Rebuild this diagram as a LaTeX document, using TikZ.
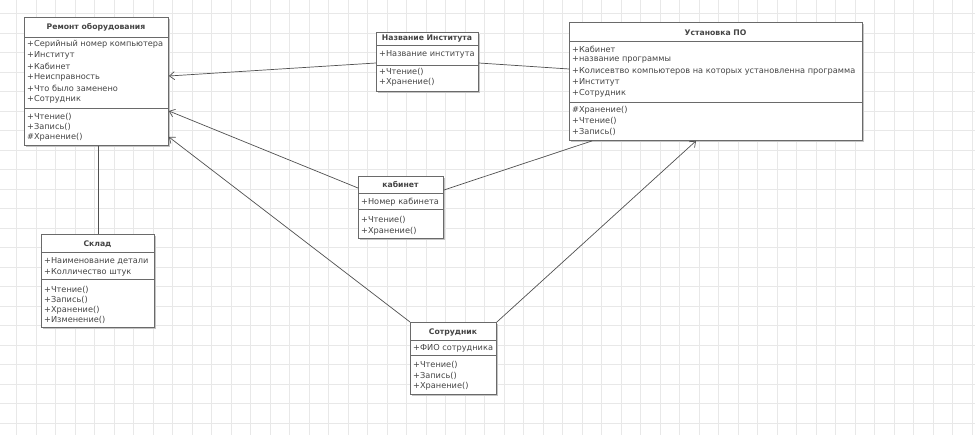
\documentclass[tikz,border=0pt]{standalone}
\usepackage{fontspec}
\setmainfont{DejaVu Sans}
\usetikzlibrary{arrows.meta}
\definecolor{gridc}{HTML}{E8E8E8}
\definecolor{boxc}{HTML}{6A6A6A}
\definecolor{linec}{HTML}{505050}
\definecolor{txtc}{HTML}{444444}
\definecolor{shadc}{HTML}{C4C4C4}
\tikzset{
  classrect/.style={draw=boxc, line width=0.9pt, fill=white, anchor=north west, inner sep=0pt},
  divline/.style={draw=boxc, line width=0.8pt},
  attr/.style={anchor=west, inner sep=0pt, text=txtc, font=\fontsize{8.2}{10}\selectfont},
  ctitle/.style={inner sep=0pt, text=txtc, font=\fontsize{7.7}{10}\selectfont\bfseries},
  conn/.style={draw=linec, line width=0.7pt},
  arr/.style={conn, -{Straight Barb[length=5pt,width=8pt]}},
}
\newcommand{\classbox}[5]{%
  \fill[shadc] (#2+1.6,#3+1.6) rectangle (#4+1.6,#5+1.6);
  \node[classrect, minimum width=#4-#2, minimum height=#5-#3] (#1) at (#2,#3) {};
}
\newcommand{\clines}[5]{%
  \foreach \t [count=\i] in {#5} {\node[attr] (#1\i) at (#2, {#3+(\i-1)*#4}) {\t};}
}
\begin{document}
\begin{tikzpicture}[x=1pt, y=-1pt]
\useasboundingbox (0,0) rectangle (975,435);
\fill[white] (0,0) rectangle (975,435);
% grid
\foreach \gx in {16.5,36,...,975} \draw[gridc, line width=0.6pt] (\gx,0) -- (\gx,435);
\foreach \gy in {13.5,33,...,435} \draw[gridc, line width=0.6pt] (0,\gy) -- (975,\gy);

% Ремонт оборудования
\classbox{rem}{24}{17}{168}{145}
\node[ctitle] (remT) at (96,27) {Ремонт оборудования};
\draw[divline] (24,37) -- (168,37);
\clines{rema}{27}{44}{11}{+Серийный номер компьютера,+Институт,+Кабинет,+Неисправность,+Что было заменено,+Сотрудник}
\draw[divline] (24,108) -- (168,108);
\clines{remm}{27}{117}{10.2}{+Чтение(),+Запись(),\#Хранение()}

% Название Института
\classbox{inst}{376}{32}{478}{91}
\node[ctitle] (instT) at (427,38.5) {Название Института};
\draw[divline] (376,45) -- (478,45);
\clines{insta}{379}{54.5}{11}{+Название института}
\draw[divline] (376,65) -- (478,65);
\clines{instm}{379}{72}{10}{+Чтение(),+Хранение()}

% Установка ПО
\classbox{ust}{569}{22}{862}{140}
\node[ctitle] (ustT) at (715.5,32.5) {Установка ПО};
\draw[divline] (569,41) -- (862,41);
\clines{usta}{572}{49}{11}{+Кабинет,+название программы,+Колисевтво компьютеров на которых установленна программа,+Институт,+Сотрудник}
\draw[divline] (569,102) -- (862,102);
\clines{ustm}{572}{110}{11}{\#Хранение(),+Чтение(),+Запись()}

% кабинет
\classbox{kab}{358}{176}{443}{238}
\node[ctitle] (kabT) at (400.5,185) {кабинет};
\draw[divline] (358,193) -- (443,193);
\clines{kaba}{361}{202}{11}{+Номер кабинета}
\draw[divline] (358,209) -- (443,209);
\clines{kabm}{361}{220}{10.8}{+Чтение(),+Хранение()}

% Склад
\classbox{skl}{41}{234}{154}{327}
\node[ctitle] (sklT) at (97.5,244) {Склад};
\draw[divline] (41,252) -- (154,252);
\clines{skla}{44}{261}{11}{+Наименование детали,+Колличество штук}
\draw[divline] (41,279) -- (154,279);
\clines{sklm}{44}{290}{10}{+Чтение(),+Запись(),+Хранение(),+Изменение()}

% Сотрудник
\classbox{sot}{410}{322}{496}{394}
\node[ctitle] (sotT) at (453,332) {Сотрудник};
\draw[divline] (410,340) -- (496,340);
\clines{sota}{413}{348}{11}{+ФИО сотрудника}
\draw[divline] (410,355) -- (496,355);
\clines{sotm}{413}{365}{10.5}{+Чтение(),+Запись(),+Хранение()}

% connectors
\draw[arr] ([yshift=-31pt]inst.north west) -- ([yshift=-59pt]rem.north east);
\draw[conn] ([yshift=-31pt]inst.north east) -- ([yshift=-47pt]ust.north west);
\draw[arr] ([yshift=-12pt]kab.north west) -- ([yshift=-94pt]rem.north east);
\draw[conn] ([yshift=-14pt]kab.north east) -- ([xshift=23pt]ust.south west);
\draw[arr] (sot.north west) -- ([yshift=-120pt]rem.north east);
\draw[arr] (sot.north east) -- ([xshift=127pt]ust.south west);
\draw[conn] (skl.north) -- (skl.north |- rem.south);
\end{tikzpicture}
\end{document}
